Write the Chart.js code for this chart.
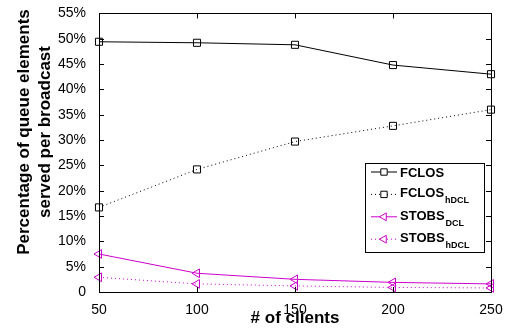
<!DOCTYPE html>
<html>
<head>
<meta charset="utf-8">
<script src="https://cdn.jsdelivr.net/npm/chart.js@4.4.0/dist/chart.umd.min.js"></script>
<style>
  html, body { margin: 0; padding: 0; background: #fff; }
  #wrap { width: 507px; height: 332px; position: relative; }
</style>
</head>
<body>
<div id="wrap"><canvas id="chart" width="507" height="332"></canvas></div>
<script>
// data
const clients = [50, 100, 150, 200, 250];
const fclos = [49.4, 49.2, 48.8, 44.8, 43.0];
const fclosHdcl = [16.7, 24.2, 29.7, 32.8, 36.0];
const stobsDcl = [7.5, 3.7, 2.5, 1.9, 1.6];
const stobsHdcl = [2.9, 1.6, 1.2, 0.9, 0.8];
const yTicks = [0, 5, 10, 15, 20, 25, 30, 35, 40, 45, 50, 55];

const MAG = '#cc00cc';
const FONT = '"Liberation Sans", Arial, Helvetica, sans-serif';

const series = [
  { label: 'FCLOS', sub: '', data: fclos, color: '#000', dash: [], style: 'rect', rot: 0 },
  { label: 'FCLOS', sub: 'hDCL', data: fclosHdcl, color: '#000', dash: [1, 3], style: 'rect', rot: 0 },
  { label: 'STOBS', sub: 'DCL', data: stobsDcl, color: MAG, dash: [], style: 'triangle', rot: -90 },
  { label: 'STOBS', sub: 'hDCL', data: stobsHdcl, color: MAG, dash: [1, 3], style: 'triangle', rot: -90 }
];

// inward ticks on all four sides + frame
const frameTicks = {
  id: 'frameTicks',
  afterDatasetsDraw(chart) {
    const { ctx, chartArea: a, scales: { x, y } } = chart;
    ctx.save();
    ctx.strokeStyle = '#000';
    ctx.lineWidth = 1;
    ctx.beginPath();
    yTicks.forEach(v => {
      const py = Math.round(y.getPixelForValue(v)) + 0.5;
      ctx.moveTo(a.left, py); ctx.lineTo(a.left + 5, py);
      ctx.moveTo(a.right, py); ctx.lineTo(a.right - 5, py);
    });
    clients.forEach(v => {
      const px = Math.round(x.getPixelForValue(v)) + 0.5;
      ctx.moveTo(px, a.bottom); ctx.lineTo(px, a.bottom - 5);
      ctx.moveTo(px, a.top); ctx.lineTo(px, a.top + 5);
    });
    ctx.stroke();
    ctx.strokeRect(Math.round(a.left) + 0.5, Math.round(a.top) + 0.5,
      Math.round(a.right - a.left), Math.round(a.bottom - a.top));
    ctx.restore();
  }
};

// y title (two lines) and legend with subscripts
const extras = {
  id: 'extras',
  afterDraw(chart) {
    const { ctx } = chart;
    ctx.save();
    ctx.fillStyle = '#000';
    ctx.font = 'bold 17px ' + FONT;
    ctx.textAlign = 'center';
    ctx.textBaseline = 'alphabetic';
    ctx.translate(0, 132);
    ctx.rotate(-Math.PI / 2);
    ctx.fillText('Percentage of queue elements', 0, 29);
    ctx.fillText('served per broadcast', 0, 50);
    ctx.restore();

    // legend box
    const bx = 365, by = 163, bw = 119, bh = 89;
    ctx.save();
    ctx.fillStyle = '#fff';
    ctx.fillRect(bx, by, bw, bh);
    ctx.strokeStyle = '#000';
    ctx.lineWidth = 1;
    ctx.strokeRect(bx + 0.5, by + 0.5, bw, bh);
    series.forEach((s, i) => {
      const ly = 172 + i * 22.4;
      ctx.strokeStyle = s.color;
      ctx.lineWidth = 1;
      ctx.setLineDash(s.dash);
      ctx.beginPath();
      ctx.moveTo(371, ly); ctx.lineTo(397, ly);
      ctx.stroke();
      ctx.setLineDash([]);
      ctx.fillStyle = '#fff';
      ctx.strokeStyle = s.color;
      Chart.helpers.drawPoint(ctx, { pointStyle: s.style, rotation: s.rot, radius: 4.5, borderWidth: s.dash.length ? 2 : 1 }, 384, ly);
      ctx.fillStyle = '#000';
      ctx.textBaseline = 'alphabetic';
      ctx.textAlign = 'left';
      ctx.font = 'bold 13px ' + FONT;
      const tx = 400;
      const base = s.sub ? ly + 3 : ly + 5;
      ctx.fillText(s.label, tx, base);
      if (s.sub) {
        const w = ctx.measureText(s.label).width;
        ctx.font = 'bold 9px ' + FONT;
        ctx.fillText(s.sub, tx + w + 1, base + 6);
      }
    });
    ctx.restore();
  }
};

new Chart(document.getElementById('chart'), {
  type: 'line',
  data: {
    datasets: series.map(s => ({
      label: s.label + s.sub,
      data: clients.map((c, i) => ({ x: c, y: s.data[i] })),
      borderColor: s.color,
      backgroundColor: 'rgba(0,0,0,0)',
      borderWidth: 1,
      borderDash: s.dash,
      pointStyle: s.style,
      pointRotation: s.rot,
      pointRadius: 5,
      pointBorderColor: s.color,
      pointBackgroundColor: 'rgba(0,0,0,0)',
      pointBorderWidth: 1,
      tension: 0,
      fill: false,
      clip: false
    }))
  },
  options: {
    responsive: false,
    animation: false,
    layout: { padding: { top: 7, right: 16, left: 0, bottom: 0 } },
    plugins: { legend: { display: false }, tooltip: { enabled: false } },
    scales: {
      x: {
        type: 'linear', min: 50, max: 250,
        afterBuildTicks: sc => { sc.ticks = clients.map(v => ({ value: v })); },
        afterFit: sc => { sc.height = 40; },
        grid: { display: false },
        border: { display: false },
        ticks: { color: '#000', font: { family: FONT, size: 14 }, padding: 2, maxRotation: 0 },
        title: { display: true, text: '# of clients', color: '#000', font: { family: FONT, size: 17, weight: 'bold' }, padding: { top: 0, bottom: 3 } }
      },
      y: {
        type: 'linear', min: 0, max: 55,
        afterBuildTicks: sc => { sc.ticks = yTicks.map(v => ({ value: v })); },
        afterFit: sc => { sc.width = 99; },
        grid: { display: false },
        border: { display: false },
        ticks: { color: '#000', font: { family: FONT, size: 14 }, padding: 5,
          callback: v => v === 0 ? '0' : v + '%' }
      }
    }
  },
  plugins: [frameTicks, extras]
});
</script>
</body>
</html>
